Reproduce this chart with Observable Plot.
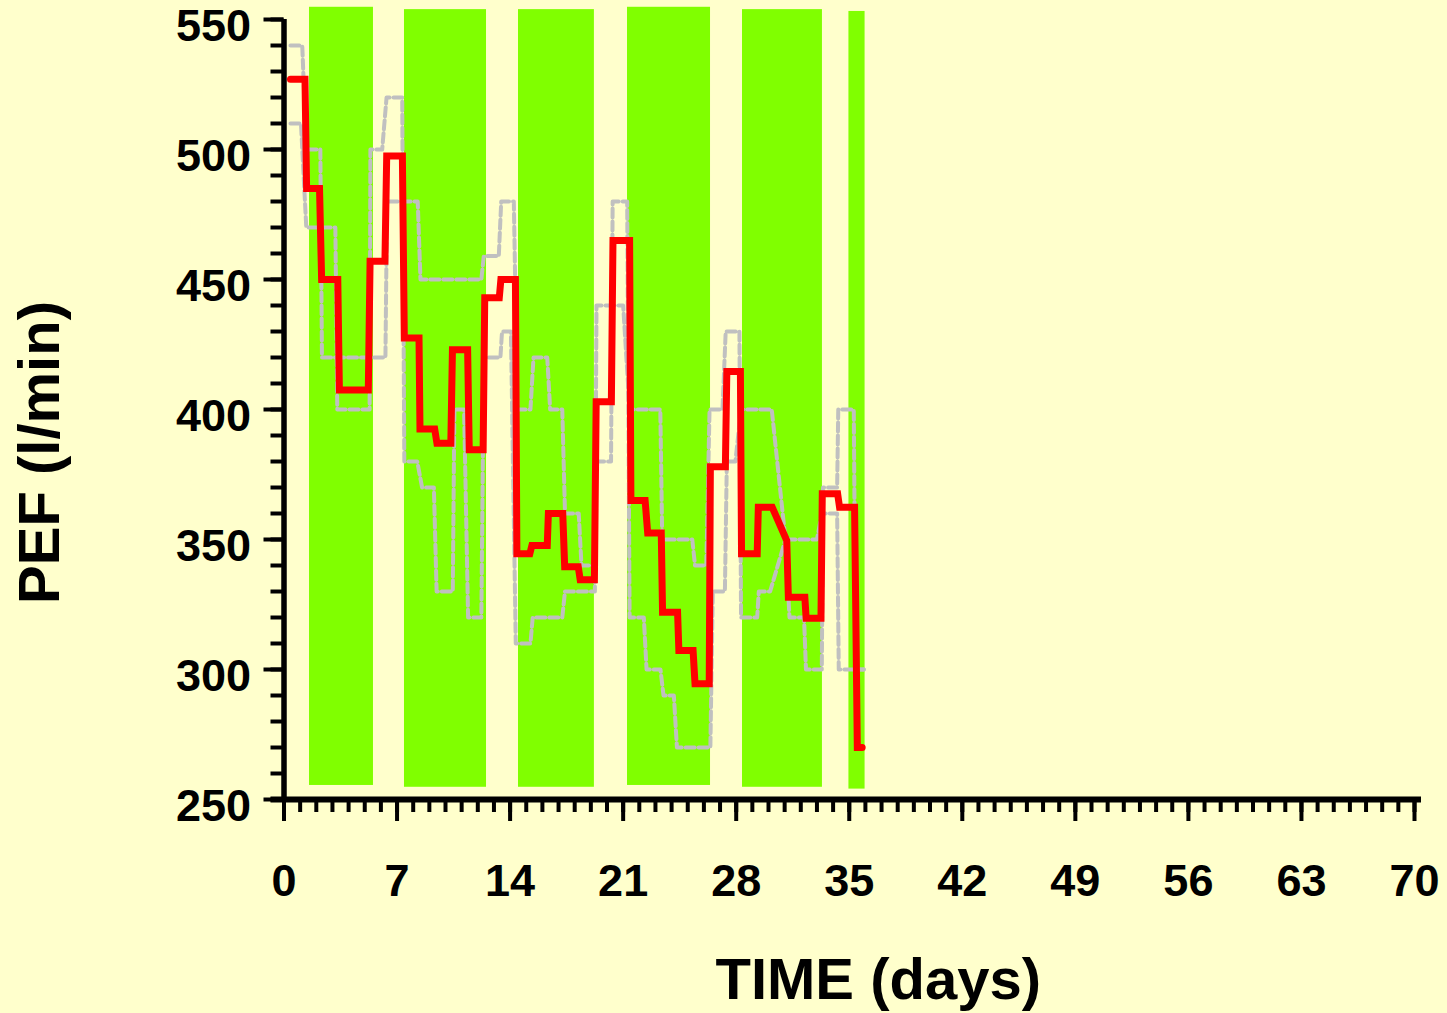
<!DOCTYPE html>
<html>
<head>
<meta charset="utf-8">
<script src="https://cdn.jsdelivr.net/npm/d3@7"></script>
<script src="https://cdn.jsdelivr.net/npm/@observablehq/plot@0.6"></script>
<style>
  html, body { margin: 0; padding: 0; background: #FFFFCC; }
  #chart svg { display: block; }
</style>
</head>
<body>
<div id="chart"></div>
<script>
// ---- Data (days, PEF in l/min) ----
const redDays = [0.4,1.3,1.4,2.2,2.33,3.33,3.43,5.22,5.33,6.25,6.36,7.33,7.45,8.36,8.42,9.33,9.47,10.33,10.43,11.37,11.47,12.33,12.43,13.33,13.43,14.33,14.42,15.22,15.35,16.3,16.37,17.26,17.38,18.22,18.34,19.22,19.33,20.27,20.37,21.4,21.48,22.36,22.52,23.36,23.44,24.37,24.45,25.33,25.45,26.33,26.4,27.33,27.42,28.26,28.33,29.3,29.37,30.23,31.13,31.23,32.25,32.33,33.25,33.33,34.28,34.4,35.33,35.5,35.8];
const redPEF  = [527,527,485,485,450,450,407.5,407.5,457,457,497.5,497.5,427.5,427.5,392.5,392.5,387,387,423,423,384.5,384.5,443,443,450,450,344.5,344.5,347.7,347.7,360,360,339.5,339.5,334.5,334.5,403,403,465,465,365,365,352.5,352.5,322,322,307.3,307.3,294.5,294.5,378,378,414.6,414.6,344.5,344.5,362.4,362.4,349.6,327.8,327.8,319.7,319.7,367.6,367.6,362.4,362.4,270,270];

const upperDays = [0.4,1.13,1.38,2.25,2.35,6.28,6.38,8.28,8.45,12.22,12.37,13.3,13.45,14.23,14.45,15.26,15.45,16.3,16.48,17.23,17.4,18.25,18.42,19.2,19.35,20.25,20.35,21.25,21.4,22.28,22.45,23.31,23.5,24.14,24.33,26.4,26.55,27.3,27.42,27.95,28.3,30.2,31.05,33.0,33.3,34.25,34.35,35.9];
const upperPEF  = [540,540,500,500,420,420,480,480,450,450,459,459,480,480,400,400,420,420,400,400,360,360,340,340,380,380,480,480,320,320,300,300,290,290,270,270,330,330,380,380,400,400,350,350,360,360,300,300];

const lowerDays = [0.4,1.05,1.38,3.18,3.3,5.3,5.35,6.08,6.35,7.32,7.45,8.25,8.55,9.28,9.45,10.45,10.55,11.15,11.4,12.22,12.37,13.4,13.5,14.05,14.35,15.26,15.4,17.23,17.4,19.25,19.35,21.0,21.4,23.3,23.42,25.28,25.45,26.15,26.35,27.15,27.35,28.2,28.3,29.3,29.4,30.1,31.05,31.3,32.2,32.32,33.3,33.38,34.25,34.32,35.28,35.4,35.9];
const lowerPEF  = [510,510,470,470,400,400,500,500,520,520,380,380,370,370,330,330,400,400,320,320,420,420,430,430,310,310,320,320,330,330,440,440,400,400,350,350,340,340,400,400,430,430,320,320,330,330,350,320,320,300,300,370,370,400,400,300,300];

// work periods (green bands)
const bandStart  = [1.58, 7.46, 14.52, 21.27, 28.39, 34.98];
const bandEnd    = [5.54, 12.54, 19.22, 26.41, 33.34, 35.98];
const bandBottom = [255.4, 254.7, 254.7, 255.4, 254.7, 254.0];
const bandTop    = [554.7, 553.8, 553.8, 554.7, 553.8, 553.1];

// ticks
const xMajor = [0,7,14,21,28,35,42,49,56,63,70];
const xTickLabels = ["0","7","14","21","28","35","42","49","56","63","70"];
const xMinor = d3.range(0, 71, 1);
const yMajor = [250,300,350,400,450,500,550];
const yTickLabels = ["250","300","350","400","450","500","550"];
const yMinor = d3.range(250, 551, 10);

const xTitle = "TIME (days)";
const yTitle = "PEF (l/min)";

// ---- build ----
const W = 1447, H = 1013, ML = 283.5, MR = 33, MT = 19, MB = 214;
const PW = W - ML - MR, PH = H - MT - MB;
const font = "'Liberation Sans', Arial, Helvetica, sans-serif";

const red = redDays.map((d, i) => ({day: d, pef: redPEF[i]}));
const upper = upperDays.map((d, i) => ({day: d, pef: upperPEF[i]}));
const lower = lowerDays.map((d, i) => ({day: d, pef: lowerPEF[i]}));
const bands = bandStart.map((s, i) => ({start: s, end: bandEnd[i], bottom: bandBottom[i], top: bandTop[i]}));
const xLab = xMajor.map((v, i) => ({v, t: xTickLabels[i]}));
const yLab = yMajor.map((v, i) => ({v, t: yTickLabels[i]}));

const plot = Plot.plot({
  width: W, height: H,
  marginLeft: ML, marginRight: MR, marginTop: MT, marginBottom: MB,
  x: {domain: [0, 70], axis: null},
  y: {domain: [250, 550], axis: null},
  style: {background: "#FFFFCC", fontFamily: font, color: "black"},
  marks: [
    Plot.rect(bands, {x1: "start", x2: "end", y1: "bottom", y2: "top", fill: "#80FF00"}),
    Plot.line(upper, {x: "day", y: "pef", stroke: "#C0C0C0", strokeWidth: 4, strokeDasharray: "9,4"}),
    Plot.line(lower, {x: "day", y: "pef", stroke: "#C0C0C0", strokeWidth: 4, strokeDasharray: "9,4"}),
    Plot.line(red, {x: "day", y: "pef", stroke: "#FF0000", strokeWidth: 7, strokeLinejoin: "miter", strokeMiterlimit: 10}),
    // y axis ticks
    Plot.ruleY(yMinor, {insetLeft: -13, insetRight: PW, stroke: "black", strokeWidth: 4}),
    Plot.ruleY(yMajor, {insetLeft: -20, insetRight: PW, stroke: "black", strokeWidth: 4}),
    // x axis ticks
    Plot.ruleX(xMinor, {insetTop: PH, insetBottom: -13, stroke: "black", strokeWidth: 4}),
    Plot.ruleX(xMajor, {insetTop: PH, insetBottom: -22, stroke: "black", strokeWidth: 4}),
    // axis lines
    Plot.ruleX([0], {y1: 250, y2: 550, stroke: "black", strokeWidth: 5.5, insetTop: -2}),
    Plot.ruleY([250], {x1: 0, x2: 70, stroke: "black", strokeWidth: 6, insetLeft: -13, insetRight: -7}),
    // tick labels
    Plot.text(yLab, {y: "v", text: "t", frameAnchor: "left", textAnchor: "end", dx: -33, dy: 7,
      fontSize: 45, fontWeight: "bold", fill: "black"}),
    Plot.text(xLab, {x: "v", text: "t", frameAnchor: "bottom", lineAnchor: "bottom", textAnchor: "middle", dy: 96,
      fontSize: 45, fontWeight: "bold", fill: "black"}),
    // axis titles
    Plot.text([yTitle], {text: d => d, frameAnchor: "left", rotate: -90, textAnchor: "middle", lineAnchor: "middle",
      dx: -243.5, dy: 43, fontSize: 58, fontWeight: "bold", fill: "black"}),
    Plot.text([xTitle], {text: d => d, frameAnchor: "bottom", textAnchor: "middle", lineAnchor: "bottom",
      dx: 29, dy: 199, fontSize: 58, fontWeight: "bold", fill: "black"})
  ]
});
document.getElementById("chart").appendChild(plot);
</script>
</body>
</html>
